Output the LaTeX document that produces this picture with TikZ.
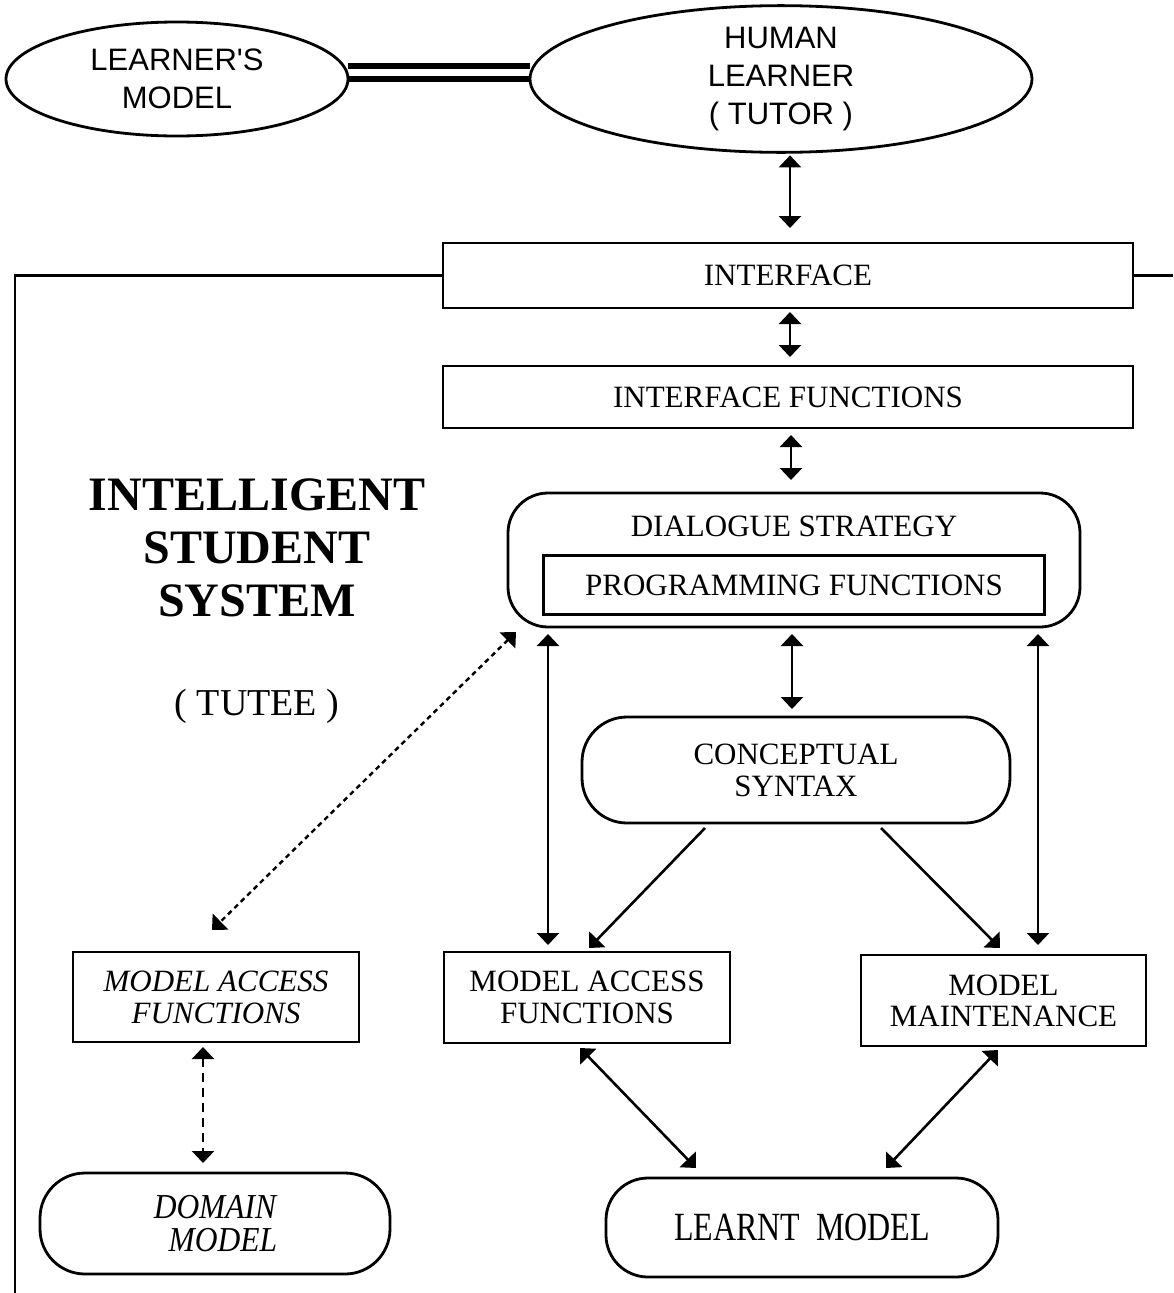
\documentclass[tikz,border=0pt]{standalone}
\usepackage{fontspec}
\setmainfont{Liberation Serif}
\newfontfamily\arialf{Liberation Sans}
\newfontfamily\condf[FakeStretch=0.8]{Liberation Serif}
\newfontfamily\condif[FakeStretch=0.9]{Liberation Serif}
\usetikzlibrary{arrows.meta,calc,backgrounds,shapes.geometric}
\tikzset{
  every node/.style={inner sep=0pt,outer sep=0pt},
  >={Triangle[width=22pt,length=12pt]},
  ell/.style={ellipse,draw,line width=2.8pt,fill=white,align=center,
    font={\arialf\fontsize{31}{38}\selectfont}},
  sqbox/.style={rectangle,draw,line width=2.8pt,align=center,
    font={\fontsize{31}{31}\selectfont}},
  rbox/.style={rectangle,draw,line width=2.8pt,align=center,
    font={\fontsize{31}{32}\selectfont}},
  dar/.style={<->,line width=2.6pt},
  dotarr/.style={<->,line width=2.4pt,dash pattern=on 5pt off 4pt},
  dasharr/.style={<->,line width=2.4pt,dash pattern=on 9pt off 6pt},
  frame/.style={line width=2.6pt},
  dbl/.style={line width=5.5pt}
}
\begin{document}
\begin{tikzpicture}[x=1pt,y=-1pt]
\useasboundingbox (0,0) rectangle (1173,1293);

% top ellipses
\node[ell,minimum width=342pt,minimum height=114pt] (lm) at (177,79) {LEARNER'S\\MODEL};
\node[ell,minimum width=502pt,minimum height=142pt] (hl) at (781,79) {HUMAN\\LEARNER\\( TUTOR )};
\begin{scope}[on background layer]
  \draw[dbl] (lm.east) -- (hl.west);
  \draw[dbl] ($(lm.east)+(0,-13)$) -- ($(hl.west)+(0,-13)$);
\end{scope}

% interface boxes
\node[sqbox,minimum width=690pt,minimum height=65pt] (intf) at (788,275.5) {INTERFACE};
\node[sqbox,minimum width=690pt,minimum height=62pt] (iff) at (788,397) {INTERFACE FUNCTIONS};

% outer frame
\draw[frame] (intf.west) -- (15,275.5) -- (15,1293);
\draw[frame] (intf.east) -- (1173,275.5);

% dialogue strategy
\node[rbox,rounded corners=40pt,minimum width=572pt,minimum height=134pt] (ds) at (794,560) {};
\node[font={\fontsize{31}{31}\selectfont}] (dst) at (794,526) {DIALOGUE STRATEGY};
\node[sqbox,minimum width=501pt,minimum height=59pt] (pf) at (794,585) {PROGRAMMING FUNCTIONS};

% conceptual syntax
\node[rbox,rounded corners=45pt,minimum width=428pt,minimum height=106pt] (cs) at (796,770) {CONCEPTUAL\\SYNTAX};

% title
\node[align=center,font={\bfseries\fontsize{48}{53}\selectfont}] (title) at (257,547.5) {INTELLIGENT\\STUDENT\\SYSTEM};
\node[font={\fontsize{38}{38}\selectfont}] (tutee) at (257,706) {( TUTEE )};

% model row
\node[sqbox,minimum width=286pt,minimum height=90pt,font={\itshape\fontsize{31}{32}\selectfont}] (mafi) at (216,997) {MODEL ACCESS\\FUNCTIONS};
\node[sqbox,minimum width=286pt,minimum height=91pt,font={\fontsize{31}{32}\selectfont}] (maf) at (587,997.5) {MODEL ACCESS\\FUNCTIONS};
\node[sqbox,minimum width=285pt,minimum height=91pt,font={\fontsize{31}{31}\selectfont}] (mm) at (1003.5,1000.5) {MODEL\\MAINTENANCE};

% bottom models
\node[rbox,rounded corners=45pt,minimum width=350pt,minimum height=101pt,font={\condif\itshape\fontsize{35}{33}\selectfont}] (dm) at (215,1223.5) {DOMAIN\\\ \ MODEL};
\node[rbox,rounded corners=42pt,minimum width=392pt,minimum height=99pt,font={\condf\fontsize{40}{40}\selectfont}] (lmod) at (802,1227.5) {LEARNT\ \ MODEL};

% arrows
\draw[dar] ($(hl.south)+(9,3)$) -- ($(intf.north)+(2,-15)$);
\draw[dar] ($(intf.south)+(2,4)$) -- ($(iff.north)+(2,-9)$);
\draw[dar] ($(iff.south)+(3,7)$) -- ($(ds.north)+(-3,-13)$);
\draw[dar] ($(ds.south)+(-2,7)$) -- ($(cs.north)+(-4,-8)$);
\draw[dar] ($(ds.south)+(-246,7)$) -- ($(maf.north)+(-39,-7)$);
\draw[dar] ($(ds.south)+(244,7)$) -- ($(mm.north)+(34.5,-10)$);
\draw[->,line width=2.6pt] ($(cs.south)+(-91,5)$) -- ($(maf.north)+(2,-4)$);
\draw[->,line width=2.6pt] ($(cs.south)+(85,5)$) -- ($(mm.north)+(-3.5,-7)$);
\draw[dotarr] ($(ds.south west)+(8,5)$) -- ($(mafi.north)+(-4,-22)$);
\draw[dasharr] ($(mafi.south)+(-13,5)$) -- ($(dm.north)+(-12,-10)$);
\draw[dar] ($(maf.south)+(-7,5)$) -- ($(lmod.north)+(-106,-10)$);
\draw[dar] ($(mm.south)+(-5.5,4)$) -- ($(lmod.north)+(84,-10)$);
\end{tikzpicture}
\end{document}
